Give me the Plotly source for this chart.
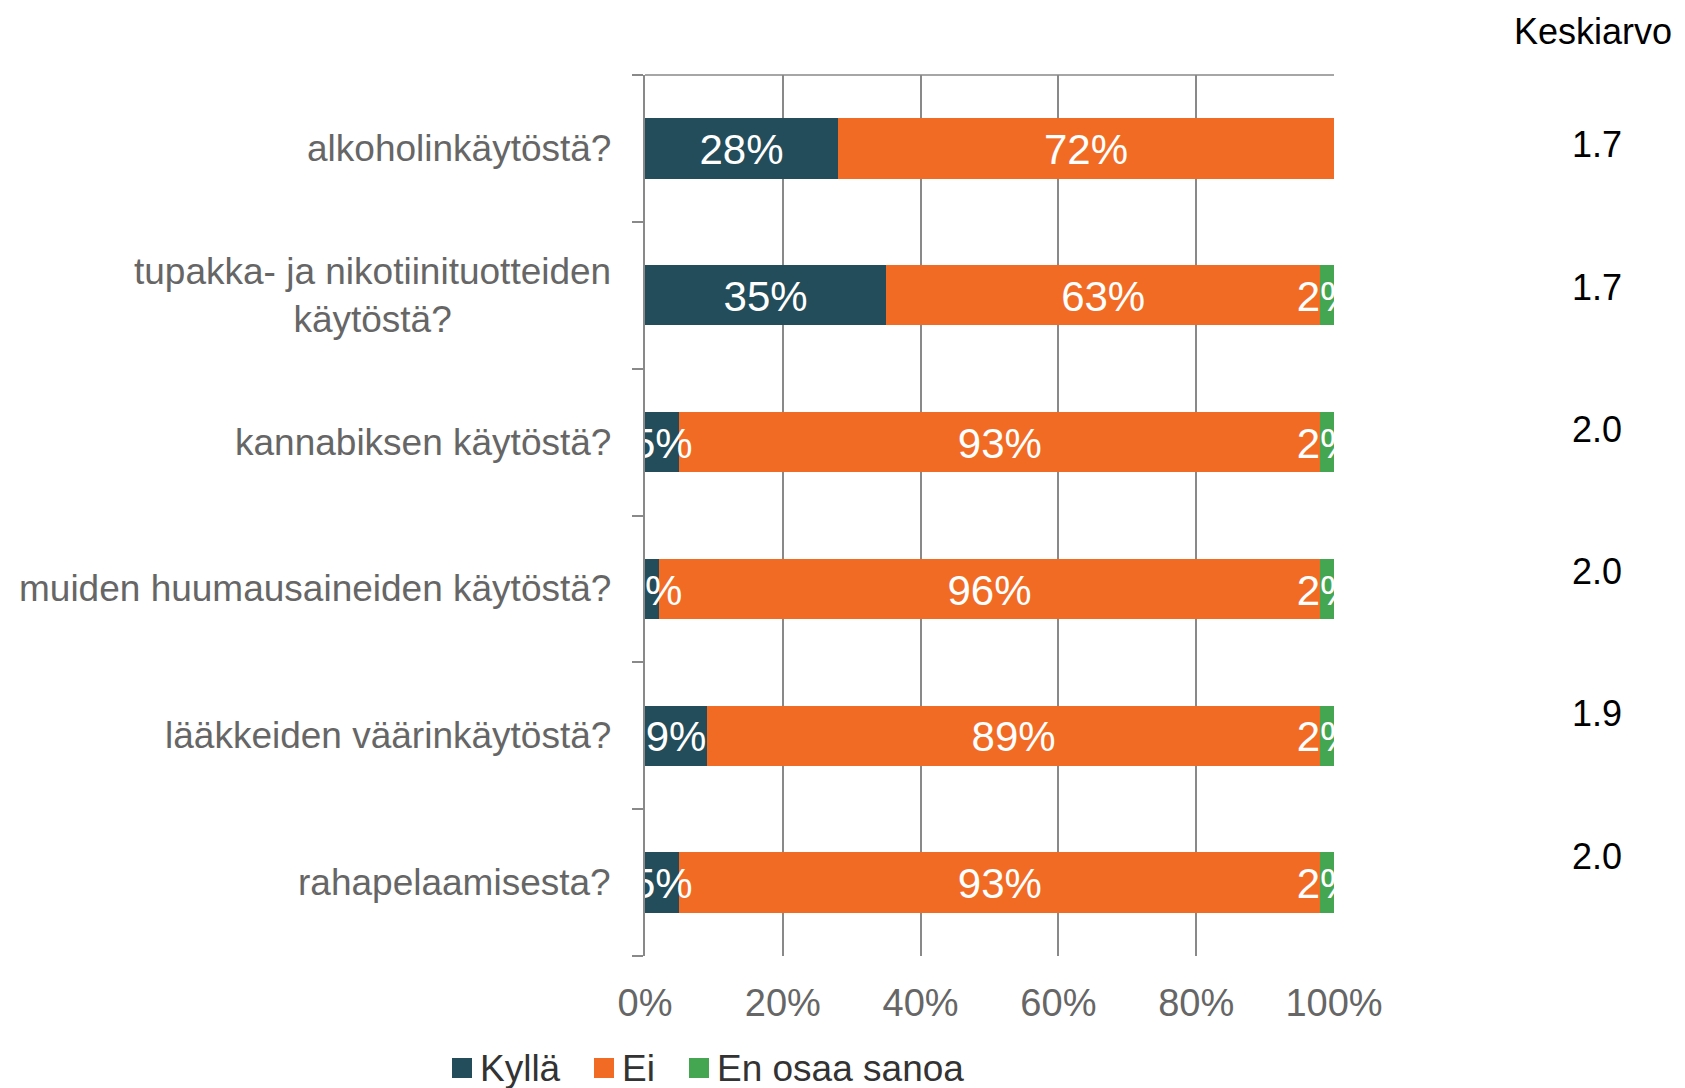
import plotly.graph_objects as go

categories = [
    "alkoholinkäytöstä?",
    "tupakka- ja nikotiinituotteiden<br>käytöstä?",
    "kannabiksen käytöstä?",
    "muiden huumausaineiden käytöstä?",
    "lääkkeiden väärinkäytöstä?",
    "rahapelaamisesta?",
]
kylla = [28, 35, 5, 2, 9, 5]
ei = [72, 63, 93, 96, 89, 93]
en_osaa = [0, 2, 2, 2, 2, 2]
keskiarvo = ["1.7", "1.7", "2.0", "2.0", "1.9", "2.0"]
x_ticks = [0, 20, 40, 60, 80, 100]
x_tick_labels = ["0%", "20%", "40%", "60%", "80%", "100%"]
series_names = ["Kyllä", "Ei", "En osaa sanoa"]
series_colors = ["#234D5A", "#F26B24", "#45A651"]
series_values = [kylla, ei, en_osaa]

REG = "Liberation Sans, Arial, sans-serif"

# page body margin offset (8px) compensation
O = 8
W, H = 1685 - O, 1088 - O
L, R, T, B = 645 - O, 1334 - O, 75 - O, 956 - O


def px(xpage):
    return (xpage - O - L) / (R - L)


def py(ypage):
    return 1 - (ypage - O - T) / (B - T)


ypos = list(range(len(categories)))

fig = go.Figure()
for name, vals, col in zip(series_names, series_values, series_colors):
    fig.add_trace(go.Bar(y=ypos, x=vals, name=name, orientation="h", width=0.41,
                         marker=dict(color=col, line=dict(width=0)), hoverinfo="skip",
                         showlegend=False))

# labels centred in segments, clipped to plot area
TEXT_DY = 0.035
cum = [0] * len(categories)
for name, vals in zip(series_names, series_values):
    xs, ys, ts = [], [], []
    for i, v in enumerate(vals):
        if v > 0:
            xs.append(cum[i] + v / 2)
            ys.append(ypos[i] + TEXT_DY)
            ts.append(f"{v}%")
        cum[i] += v
    fig.add_trace(go.Scatter(x=xs, y=ys, text=ts, mode="text", showlegend=False,
                             textfont=dict(color="white", size=42, family=REG),
                             cliponaxis=True, hoverinfo="skip"))

# category labels
for i, c in enumerate(categories):
    fig.add_annotation(x=0, xref="paper", xshift=-32, y=ypos[i], yref="y", text=c,
                       xanchor="right", yanchor="middle", align="center", showarrow=False,
                       font=dict(size=37, color="#666666", family=REG))

# Keskiarvo column
fig.add_annotation(x=px(1674), xref="paper", y=py(31), yref="paper", text="Keskiarvo",
                   showarrow=False, xanchor="right", yanchor="middle",
                   font=dict(size=36, color="#000000", family=REG))
for i, k in enumerate(keskiarvo):
    ypage = 145 + i * 142.2
    fig.add_annotation(x=px(1597), xref="paper", y=py(ypage), yref="paper",
                       text=k, showarrow=False, xanchor="center", yanchor="middle",
                       font=dict(size=36, color="#000000", family=REG))

# custom legend (large square symbols)
leg_sq_x = [452, 594, 689]
leg_y = 1068
for name, col, x0 in zip(series_names, series_colors, leg_sq_x):
    fig.add_shape(type="rect", xref="paper", yref="paper",
                  x0=px(x0), x1=px(x0 + 20), y0=py(leg_y - 10), y1=py(leg_y + 10),
                  fillcolor=col, line=dict(width=0))
    fig.add_annotation(x=px(x0 + 26), xref="paper", y=py(leg_y), yref="paper", text=name,
                       showarrow=False, xanchor="left", yanchor="middle",
                       font=dict(size=37, color="#333333", family=REG))

# top axis line
fig.add_shape(type="line", xref="x domain", yref="y domain", x0=0, x1=1, y0=1, y1=1,
              line=dict(color="#898989", width=1.5))

n = len(categories)
fig.update_layout(
    width=W, height=H,
    margin=dict(l=L, r=W - R, t=T, b=H - B, autoexpand=False),
    barmode="stack",
    plot_bgcolor="white", paper_bgcolor="white",
    showlegend=False,
    font=dict(family=REG),
)
fig.update_xaxes(range=[0, 100], tickvals=x_ticks, ticktext=x_tick_labels,
                 showgrid=True, gridcolor="#898989", gridwidth=1.5, zeroline=False,
                 showline=False, ticks="", ticklabelstandoff=21,
                 tickfont=dict(size=38, color="#666666", family=REG), fixedrange=True)
fig.update_yaxes(range=[n - 0.5, -0.5], tickvals=[k - 0.5 for k in range(n + 1)],
                 showticklabels=False, showgrid=False, zeroline=False,
                 showline=True, linecolor="#898989", linewidth=1.5,
                 ticks="outside", ticklen=11, tickcolor="#898989",
                 tickwidth=1.5, fixedrange=True)

fig.write_html("out.html")
